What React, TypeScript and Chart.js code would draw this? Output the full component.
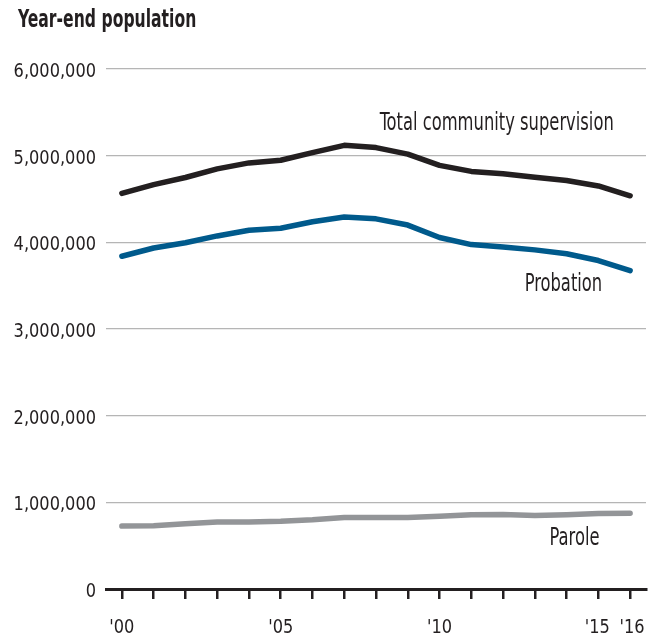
import React, { useEffect, useRef } from "react";
import { Chart, registerables } from "chart.js";

Chart.register(...registerables);

const years = [2000, 2001, 2002, 2003, 2004, 2005, 2006, 2007, 2008, 2009, 2010, 2011, 2012, 2013, 2014, 2015, 2016];
const totalSupervision = [4564900, 4665900, 4748300, 4847500, 4916400, 4946600, 5035000, 5119000, 5093400, 5017900, 4888500, 4818300, 4790700, 4749800, 4713200, 4650900, 4537100];
const probation = [3839500, 3934700, 3995200, 4074000, 4140100, 4162300, 4236800, 4293000, 4271200, 4199200, 4055900, 3973800, 3944900, 3912900, 3868400, 3789800, 3673100];
const parole = [725500, 731100, 753100, 773500, 771900, 780600, 798200, 826100, 826100, 824100, 840800, 855500, 858400, 849500, 857700, 870500, 874800];
const labeledYears = [2000, 2005, 2010, 2015, 2016];
const yTicks = [0, 1000000, 2000000, 3000000, 4000000, 5000000, 6000000];
const seriesNames = ["Total community supervision", "Probation", "Parole"];
const titleText = "Year-end population";

const FONT = "'DejaVu Sans Condensed', 'DejaVu Sans', sans-serif";
const INK = "#231f20";

function drawText(ctx: CanvasRenderingContext2D, text: string, x: number, y: number, font: string, align: CanvasTextAlign, sx: number) {
  ctx.save();
  ctx.font = font;
  ctx.fillStyle = INK;
  ctx.textAlign = align;
  ctx.textBaseline = "alphabetic";
  ctx.translate(x, y);
  ctx.scale(sx, 1);
  ctx.fillText(text, 0, 0);
  ctx.restore();
}

export default function App() {
  const ref = useRef<HTMLCanvasElement | null>(null);
  useEffect(() => {
    if (!ref.current) return;
    const textPlugin = {
      id: "texts",
      afterDraw(chart: any) {
        const { ctx, scales } = chart;
        const xs = scales.x;
        const ys = scales.y;
        drawText(ctx, titleText, 18, 27, `bold 24px ${FONT}`, "left", 0.724);
        yTicks.forEach((v) => {
          drawText(ctx, v.toLocaleString("en-US"), ys.right - 10, ys.getPixelForValue(v) + 8, `20px ${FONT}`, "right", 0.9);
        });
        labeledYears.forEach((yr) => {
          const off = yr === 2015 ? -1 : yr === 2016 ? 2 : 0;
          drawText(ctx, "'" + String(yr).slice(2), xs.getPixelForValue(yr) + off, ys.bottom + 44, `20px ${FONT}`, "center", 0.9);
        });
        const spots = [
          [2011.8, 5300000],
          [2013.9, 3440000],
          [2014.25, 510000],
        ];
        seriesNames.forEach((n, i) => {
          drawText(ctx, n, xs.getPixelForValue(spots[i][0]), ys.getPixelForValue(spots[i][1]), `24px ${FONT}`, "center", 0.757);
        });
      },
    };
    const mk = (label: string, data: number[], color: string) => ({
      label,
      data: years.map((y, i) => ({ x: y, y: data[i] })),
      borderColor: color,
      backgroundColor: color,
      borderWidth: 5.5,
      pointRadius: 0,
      tension: 0,
      borderJoinStyle: "round" as const,
      borderCapStyle: "round" as const,
    });
    const chart = new Chart(ref.current, {
      type: "line",
      data: {
        datasets: [
          mk(seriesNames[0], totalSupervision, "#231f20"),
          mk(seriesNames[1], probation, "#005a8c"),
          mk(seriesNames[2], parole, "#939598"),
        ],
      },
      options: {
        animation: false,
        responsive: false,
        layout: { padding: { top: 69, right: 10, left: 0, bottom: 0 } },
        plugins: { legend: { display: false }, tooltip: { enabled: false } },
        scales: {
          x: {
            type: "linear",
            min: 1999.5,
            max: 2016.5,
            afterBuildTicks: (s: any) => {
              s.ticks = years.map((v) => ({ value: v }));
            },
            afterFit: (s: any) => {
              s.height = 46;
            },
            grid: {
              drawOnChartArea: false,
              drawTicks: true,
              tickLength: 10,
              color: INK,
              lineWidth: 2.5,
            },
            border: { display: true, color: INK, width: 3 },
            ticks: { display: false },
          },
          y: {
            min: 0,
            max: 6000000,
            afterBuildTicks: (s: any) => {
              s.ticks = yTicks.map((v) => ({ value: v }));
            },
            afterFit: (s: any) => {
              s.width = 106;
            },
            grid: {
              drawTicks: false,
              color: (c: any) => (c.tick && c.tick.value === 0 ? "rgba(0,0,0,0)" : "#b5b5b5"),
              lineWidth: 1.2,
            },
            border: { display: false },
            ticks: { display: false },
          },
        },
      },
      plugins: [textPlugin],
    });
    return () => chart.destroy();
  }, []);
  return (
    <div style={{ position: "absolute", left: 0, top: 0, width: 656, height: 635, background: "#fff" }}>
      <canvas ref={ref} width={656} height={635} style={{ width: 656, height: 635, display: "block" }} />
    </div>
  );
}
